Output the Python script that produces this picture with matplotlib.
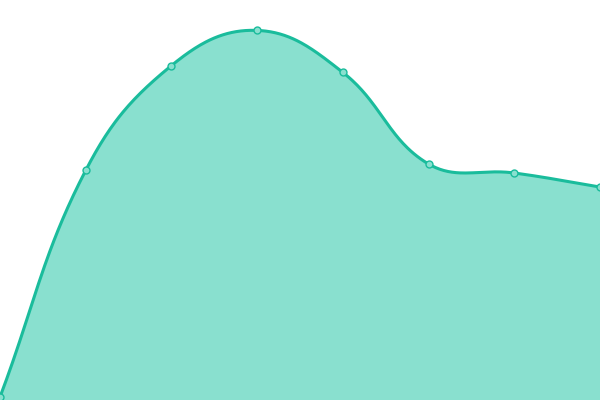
import numpy as np
import matplotlib
matplotlib.use("Agg")
import matplotlib.pyplot as plt

# chart data
labels = ["1", "2", "3", "4", "5", "6", "7", "8"]
values = [0.75, 57.4, 83.6, 92.4, 81.9, 59.0, 56.75, 53.25]

LINE = "#1abc9c"
FILL = "#89e0cf"
TENSION = 0.4


def spline_controls(pts, t=TENSION):
    """Chart.js style cubic control points for a smooth line."""
    n = len(pts)
    ctrl = []
    for i in range(n):
        prev = pts[max(i - 1, 0)]
        cur = pts[i]
        nxt = pts[min(i + 1, n - 1)]
        d01 = np.hypot(*(cur - prev))
        d12 = np.hypot(*(nxt - cur))
        tot = d01 + d12
        s01 = d01 / tot if tot else 0
        s12 = d12 / tot if tot else 0
        ctrl.append((cur - t * s01 * (nxt - prev), cur + t * s12 * (nxt - prev)))
    return ctrl


fig = plt.figure(figsize=(6, 4), dpi=100)
ax = fig.add_axes([0, 0, 1, 1])
x = np.arange(len(values))
ax.set_xlim(0, len(values) - 1)
ax.set_ylim(0, 100)
ax.set_axis_off()

# build smooth curve in pixel space so the tension matches the screen
disp = ax.transData.transform(np.column_stack([x, values]))
ctrl = spline_controls(disp)
tt = np.linspace(0, 1, 60)[:, None]
curve = []
for i in range(len(disp) - 1):
    p0, p3 = disp[i], disp[i + 1]
    p1, p2 = ctrl[i][1], ctrl[i + 1][0]
    seg = ((1 - tt) ** 3) * p0 + 3 * ((1 - tt) ** 2) * tt * p1 \
        + 3 * (1 - tt) * tt ** 2 * p2 + tt ** 3 * p3
    curve.append(seg if i == 0 else seg[1:])
curve = ax.transData.inverted().transform(np.vstack(curve))

ax.fill_between(curve[:, 0], 0, curve[:, 1], color=FILL, linewidth=0)
ax.plot(curve[:, 0], curve[:, 1], color=LINE, linewidth=2.2, solid_capstyle="round")
ax.plot(x, values, "o", markersize=5, markerfacecolor=FILL,
        markeredgecolor=LINE, markeredgewidth=1.0, clip_on=True)

fig.savefig("out.png", dpi=100)
